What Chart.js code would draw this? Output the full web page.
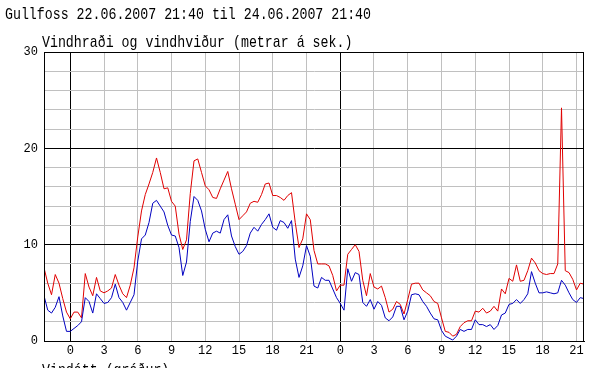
<!DOCTYPE html>
<html>
<head>
<meta charset="utf-8">
<script src="https://cdn.jsdelivr.net/npm/chart.js@4"></script>
<style>
  html, body { margin: 0; padding: 0; background: #fff; overflow: hidden; }
  #wrap { position: relative; width: 599px; height: 368px; }
  canvas { position: absolute; left: 0; top: 0; }
  .txt {
    position: absolute;
    font-family: "Liberation Mono", monospace;
    font-size: 17px;
    line-height: 17px;
    color: #000;
    white-space: nowrap;
    transform: scaleX(0.78);
    transform-origin: 0 0;
  }
</style>
</head>
<body>
<div id="wrap">
  <canvas id="chart" width="599" height="368"></canvas>
  <div class="txt" id="title" style="left:5px; top:6px;"></div>
  <div class="txt" id="subtitle" style="left:42px; top:34px;"></div>
  <div class="txt" id="nextTitle" style="left:42px; top:362px;"></div>
</div>
<script>
// Gullfoss - vindhraði og vindhviður, 20 mín. milli mælinga (frá 22.06 kl. 21:40)
const TITLE = 'Gullfoss 22.06.2007 21:40 til 24.06.2007 21:40';
const SUBTITLE = 'Vindhraði og vindhviður (metrar á sek.)';
const NEXT_TITLE = 'Vindátt (gráður)';

const STEP_HOURS = 1 / 3;        // 20 mín.
const FIRST_MIDNIGHT = 7 / 3;    // 21:40 -> 00:00 = 2 klst 20 mín

// Vindhviður (rautt)
const gust = [
  7.6, 6.0, 4.8, 6.9, 6.0, 4.4, 3.0, 2.3, 3.0, 3.0, 2.4, 7.0, 5.6, 4.7, 6.6, 5.2,
  5.0, 5.2, 5.5, 6.9, 5.8, 4.9, 4.5, 5.8, 7.6, 10.8, 13.5, 15.2, 16.3, 17.5, 19.0, 17.5,
  15.8, 15.9, 14.5, 14.0, 11.1, 9.5, 10.5, 15.3, 18.7, 18.9, 17.5, 16.1, 15.7, 14.9, 14.8, 15.8,
  16.7, 17.6, 15.8, 14.2, 12.6, 13.0, 13.4, 14.3, 14.5, 14.4, 15.2, 16.3, 16.4, 15.1, 15.1, 14.9,
  14.6, 15.1, 15.4, 12.3, 9.7, 10.6, 13.2, 12.6, 9.4, 8.0, 8.0, 8.0, 7.8, 6.8, 5.2, 5.8,
  5.8, 9.0, 9.5, 10.0, 9.3, 6.3, 4.7, 7.0, 5.6, 5.4, 5.7, 4.5, 3.0, 3.3, 4.1, 3.8,
  2.8, 4.3, 5.9, 6.0, 6.0, 5.3, 5.0, 4.7, 4.1, 3.9, 2.4, 1.0, 0.9, 0.5, 0.7, 1.5,
  1.9, 2.1, 2.1, 3.1, 3.0, 3.4, 2.9, 3.1, 3.6, 3.1, 5.4, 4.9, 6.5, 6.2, 7.9, 6.2,
  6.3, 7.3, 8.6, 8.1, 7.3, 7.0, 6.9, 7.0, 7.0, 8.0, 24.2, 7.3, 7.1, 6.4, 5.3, 6.0,
  5.9
];

// Vindhraði (blátt)
const speed = [
  4.7, 3.2, 2.9, 3.5, 4.6, 2.6, 1.0, 1.0, 1.3, 1.6, 2.0, 4.5, 4.1, 2.9, 4.9, 4.4,
  3.9, 4.0, 4.5, 5.9, 4.5, 4.0, 3.2, 4.0, 4.8, 8.3, 10.6, 11.0, 12.3, 14.3, 14.6, 14.0,
  13.4, 12.0, 11.0, 10.9, 9.7, 6.8, 8.2, 12.4, 15.0, 14.6, 13.5, 11.6, 10.3, 11.2, 11.4, 11.2,
  12.6, 13.1, 10.9, 9.8, 9.0, 9.3, 9.9, 11.2, 11.8, 11.4, 12.1, 12.6, 13.2, 11.8, 11.5, 12.5,
  12.3, 11.7, 12.5, 8.5, 6.6, 7.8, 9.9, 8.8, 5.7, 5.5, 6.6, 6.3, 6.3, 5.4, 4.5, 3.9,
  3.2, 7.5, 6.2, 7.1, 6.9, 4.0, 3.6, 4.3, 3.3, 4.1, 3.7, 2.4, 2.1, 2.5, 3.6, 3.6,
  2.2, 3.1, 4.8, 4.9, 4.8, 4.1, 3.6, 2.9, 2.3, 2.2, 1.1, 0.5, 0.3, 0.1, 0.5, 1.2,
  1.0, 1.2, 1.2, 2.2, 1.7, 1.7, 1.5, 1.7, 1.2, 1.6, 2.7, 2.9, 3.8, 3.9, 4.3, 3.9,
  4.3, 4.9, 7.2, 6.0, 5.0, 5.0, 5.1, 5.0, 4.9, 5.0, 6.3, 5.8, 5.0, 4.3, 4.0, 4.5,
  4.4
];

// Klukkustundir á x-ás (á 3 klst fresti)
const xTickLabels = ['0', '3', '6', '9', '12', '15', '18', '21', '0', '3', '6', '9', '12', '15', '18', '21'];
const yTickLabels = ['0', '10', '20', '30'];

document.getElementById('title').textContent = TITLE;
document.getElementById('subtitle').textContent = SUBTITLE;
document.getElementById('nextTitle').textContent = NEXT_TITLE;

const toPoints = (arr) => arr.map((v, i) => ({ x: i * STEP_HOURS, y: v }));

// Rammi utan um teiknisvæðið
const framePlugin = {
  id: 'frame',
  afterDraw(chart) {
    const { ctx, chartArea: a } = chart;
    ctx.save();
    ctx.strokeStyle = '#000';
    ctx.lineWidth = 1;
    ctx.strokeRect(Math.round(a.left) + 0.5, Math.round(a.top) + 0.5,
      Math.round(a.right - a.left) - 1, Math.round(a.bottom - a.top));
    ctx.restore();
  }
};

const tickFont = { family: 'Liberation Mono', size: 12 };

new Chart(document.getElementById('chart').getContext('2d'), {
  type: 'line',
  data: {
    datasets: [
      {
        label: 'Vindhraði',
        data: toPoints(speed),
        borderColor: '#0000c0',
        borderWidth: 1,
        pointRadius: 0,
        tension: 0,
        order: 0
      },
      {
        label: 'Vindhviður',
        data: toPoints(gust),
        borderColor: '#e00000',
        borderWidth: 1,
        pointRadius: 0,
        tension: 0,
        order: 1
      }
    ]
  },
  options: {
    responsive: false,
    animation: false,
    layout: { padding: { top: 52, right: 15, left: 0, bottom: 0 } },
    plugins: {
      legend: { display: false },
      tooltip: { enabled: false }
    },
    scales: {
      x: {
        type: 'linear',
        min: 0,
        max: (gust.length - 1) * STEP_HOURS,
        afterBuildTicks: (axis) => {
          axis.ticks = xTickLabels.map((_, i) => ({ value: FIRST_MIDNIGHT + i * 3 }));
        },
        afterFit: (axis) => { axis.height = 27; },
        ticks: {
          autoSkip: false,
          maxRotation: 0,
          padding: 3,
          color: '#000',
          font: tickFont,
          callback: (value, index) => xTickLabels[index]
        },
        grid: {
          drawTicks: false,
          color: (ctx) => xTickLabels[ctx.index] === '0' ? '#000' : '#c0c0c0'
        },
        border: { color: '#000' }
      },
      y: {
        min: 0,
        max: 30,
        afterFit: (axis) => { axis.width = 44; },
        ticks: {
          stepSize: 2,
          padding: 6,
          color: '#000',
          font: tickFont,
          callback: (value) => yTickLabels.includes(String(value)) ? String(value) : ''
        },
        grid: {
          drawTicks: false,
          color: (ctx) => ctx.tick && ctx.tick.value % 10 === 0 ? '#000' : '#c0c0c0'
        },
        border: { color: '#000' }
      }
    }
  },
  plugins: [framePlugin]
});
</script>
</body>
</html>
